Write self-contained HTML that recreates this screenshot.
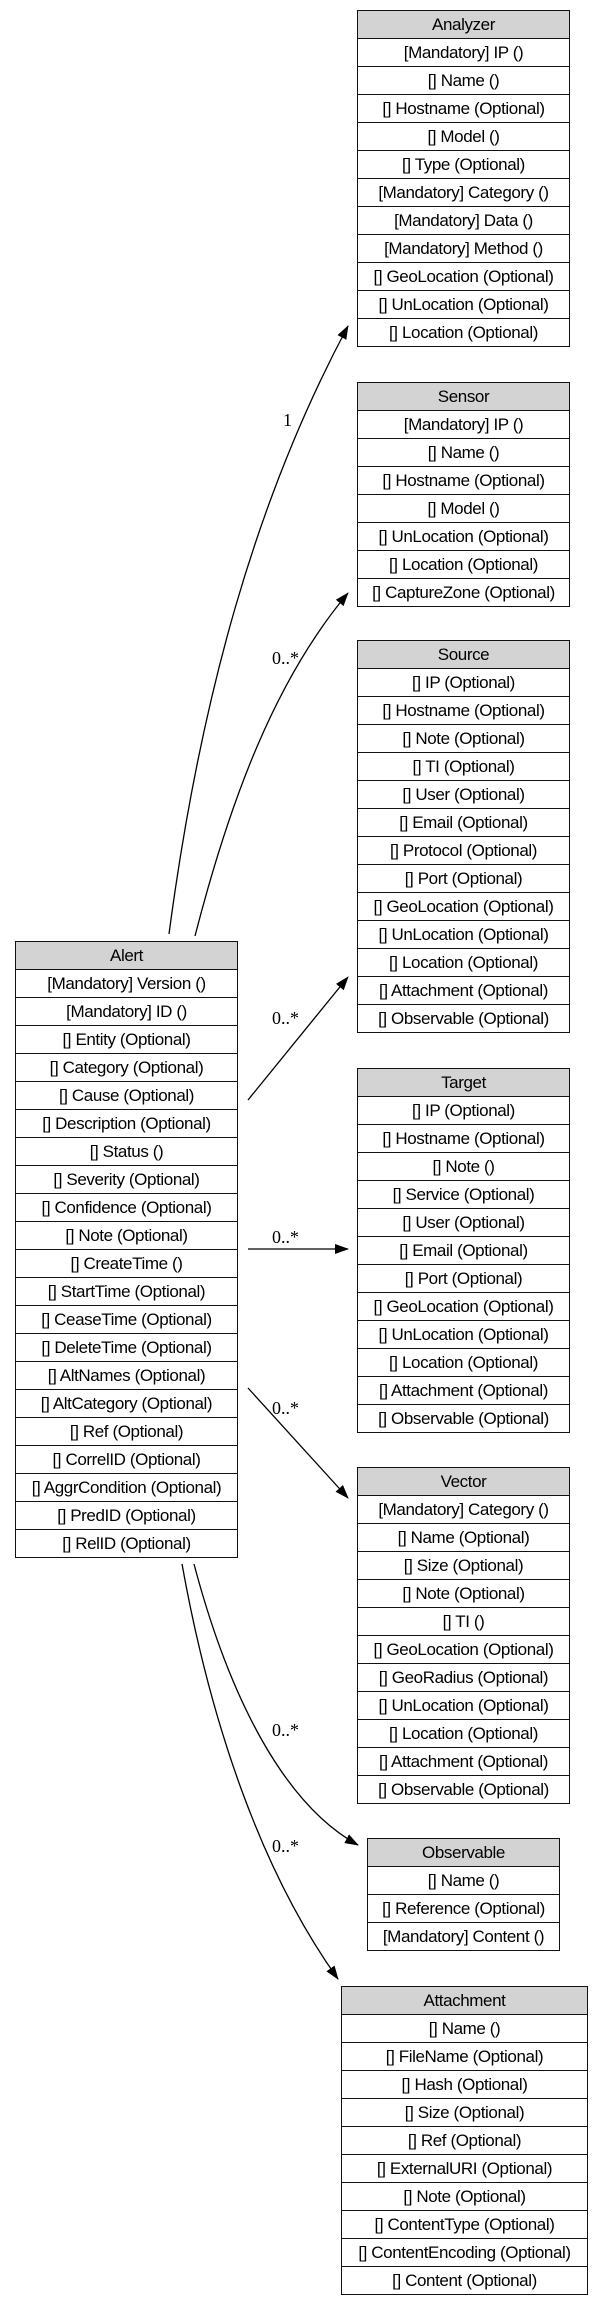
<!DOCTYPE html>
<html><head><meta charset="utf-8"><style>
body{margin:0;background:#fff;width:603px;height:2303px;position:relative;overflow:hidden;font-family:"Liberation Sans",sans-serif;}
.b{position:absolute;border:1px solid #111;box-sizing:border-box;background:#fff}
.b div{height:28px;line-height:27px;border-top:1px solid #111;box-sizing:border-box;text-align:center;font-size:17px;white-space:nowrap;color:#000;letter-spacing:-0.4px}
.b div:first-child{border-top:none;background:#d3d3d3;height:27px}
svg{position:absolute;left:0;top:0}
.l{font-family:"Liberation Serif",serif;font-size:18px}
</style></head><body>
<svg width="603" height="2303">
<defs><marker id="a" markerWidth="14" markerHeight="10" refX="13" refY="5" orient="auto" markerUnits="userSpaceOnUse"><path d="M0,0 L14,5 L0,10 z" fill="#000"/></marker></defs>
<g fill="none" stroke="#000" stroke-width="1.3">
<path d="M169,934 C200,700 255,500 348,326" marker-end="url(#a)"/>
<path d="M195,936 C230,800 275,680 348,593" marker-end="url(#a)"/>
<path d="M248,1100 L348,977" marker-end="url(#a)"/>
<path d="M248,1249 L348,1249" marker-end="url(#a)"/>
<path d="M248,1388 L348,1498" marker-end="url(#a)"/>
<path d="M194,1564 C230,1700 285,1805 358,1845" marker-end="url(#a)"/>
<path d="M182,1564 C210,1720 260,1870 338,1979" marker-end="url(#a)"/>
</g>
<text class="l" x="283" y="426">1</text>
<text class="l" x="272" y="664">0..*</text>
<text class="l" x="272" y="1024">0..*</text>
<text class="l" x="272" y="1243">0..*</text>
<text class="l" x="272" y="1414">0..*</text>
<text class="l" x="272" y="1736">0..*</text>
<text class="l" x="272" y="1852">0..*</text>
</svg>
<div class="b" style="left:357px;top:10px;width:213px"><div>Analyzer</div><div>[Mandatory] IP ()</div><div>[] Name ()</div><div>[] Hostname (Optional)</div><div>[] Model ()</div><div>[] Type (Optional)</div><div>[Mandatory] Category ()</div><div>[Mandatory] Data ()</div><div>[Mandatory] Method ()</div><div>[] GeoLocation (Optional)</div><div>[] UnLocation (Optional)</div><div>[] Location (Optional)</div></div>
<div class="b" style="left:357px;top:382px;width:213px"><div>Sensor</div><div>[Mandatory] IP ()</div><div>[] Name ()</div><div>[] Hostname (Optional)</div><div>[] Model ()</div><div>[] UnLocation (Optional)</div><div>[] Location (Optional)</div><div>[] CaptureZone (Optional)</div></div>
<div class="b" style="left:357px;top:640px;width:213px"><div>Source</div><div>[] IP (Optional)</div><div>[] Hostname (Optional)</div><div>[] Note (Optional)</div><div>[] TI (Optional)</div><div>[] User (Optional)</div><div>[] Email (Optional)</div><div>[] Protocol (Optional)</div><div>[] Port (Optional)</div><div>[] GeoLocation (Optional)</div><div>[] UnLocation (Optional)</div><div>[] Location (Optional)</div><div>[] Attachment (Optional)</div><div>[] Observable (Optional)</div></div>
<div class="b" style="left:357px;top:1068px;width:213px"><div>Target</div><div>[] IP (Optional)</div><div>[] Hostname (Optional)</div><div>[] Note ()</div><div>[] Service (Optional)</div><div>[] User (Optional)</div><div>[] Email (Optional)</div><div>[] Port (Optional)</div><div>[] GeoLocation (Optional)</div><div>[] UnLocation (Optional)</div><div>[] Location (Optional)</div><div>[] Attachment (Optional)</div><div>[] Observable (Optional)</div></div>
<div class="b" style="left:357px;top:1467px;width:213px"><div>Vector</div><div>[Mandatory] Category ()</div><div>[] Name (Optional)</div><div>[] Size (Optional)</div><div>[] Note (Optional)</div><div>[] TI ()</div><div>[] GeoLocation (Optional)</div><div>[] GeoRadius (Optional)</div><div>[] UnLocation (Optional)</div><div>[] Location (Optional)</div><div>[] Attachment (Optional)</div><div>[] Observable (Optional)</div></div>
<div class="b" style="left:367px;top:1838px;width:193px"><div>Observable</div><div>[] Name ()</div><div>[] Reference (Optional)</div><div>[Mandatory] Content ()</div></div>
<div class="b" style="left:341px;top:1986px;width:247px"><div>Attachment</div><div>[] Name ()</div><div>[] FileName (Optional)</div><div>[] Hash (Optional)</div><div>[] Size (Optional)</div><div>[] Ref (Optional)</div><div>[] ExternalURI (Optional)</div><div>[] Note (Optional)</div><div>[] ContentType (Optional)</div><div>[] ContentEncoding (Optional)</div><div>[] Content (Optional)</div></div>
<div class="b" style="left:15px;top:941px;width:223px"><div>Alert</div><div>[Mandatory] Version ()</div><div>[Mandatory] ID ()</div><div>[] Entity (Optional)</div><div>[] Category (Optional)</div><div>[] Cause (Optional)</div><div>[] Description (Optional)</div><div>[] Status ()</div><div>[] Severity (Optional)</div><div>[] Confidence (Optional)</div><div>[] Note (Optional)</div><div>[] CreateTime ()</div><div>[] StartTime (Optional)</div><div>[] CeaseTime (Optional)</div><div>[] DeleteTime (Optional)</div><div>[] AltNames (Optional)</div><div>[] AltCategory (Optional)</div><div>[] Ref (Optional)</div><div>[] CorrelID (Optional)</div><div>[] AggrCondition (Optional)</div><div>[] PredID (Optional)</div><div>[] RelID (Optional)</div></div>
</body></html>
